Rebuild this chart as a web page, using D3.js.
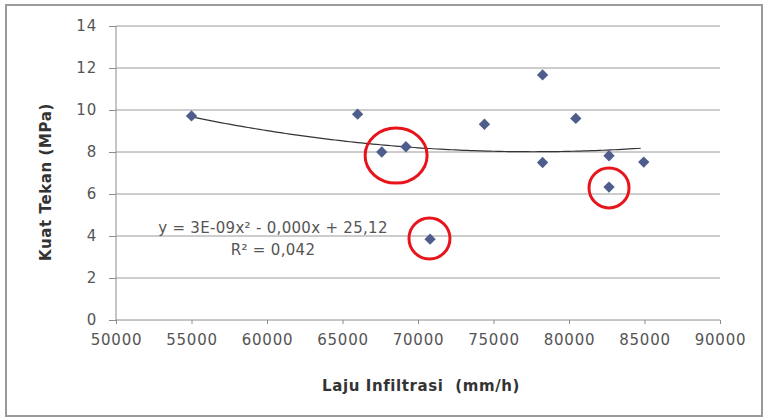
<!DOCTYPE html>
<html>
<head>
<meta charset="utf-8">
<script src="https://cdn.jsdelivr.net/npm/d3@7"></script>
<style>
  body { margin: 0; background: #fff; }
  text { font-family: "DejaVu Sans", sans-serif; fill: #404040; }
  .tick text { font-size: 15px; letter-spacing: 0.8px; fill: #555; }
  .axis path { stroke: #8c8c8c; }
  .axis line { stroke: #8c8c8c; }
  .grid line { stroke: #9a9a9a; }
  .title { font-size: 15px; font-weight: bold; fill: #333; letter-spacing: 0.6px; white-space: pre; }
  .eq { font-size: 15px; fill: #555; letter-spacing: 0.3px; }
</style>
</head>
<body>
<div id="chart"></div>
<script>
// data
var lajuInfiltrasi = [55000, 66000, 67600, 69200, 70800, 74400, 78250, 80450, 78250, 82650, 84950, 82650];
var kuatTekan      = [9.72, 9.8, 8.0, 8.25, 3.85, 9.32, 11.67, 9.6, 7.5, 7.82, 7.52, 6.33];
var xTicks = [50000, 55000, 60000, 65000, 70000, 75000, 80000, 85000, 90000];
var yTicks = [0, 2, 4, 6, 8, 10, 12, 14];
// poly trendline coefficients (as drawn)
var trendCoef = [27.55, -5.035e-4, 3.244e-9];
var eqLines = ["y = 3E-09x² - 0,000x + 25,12", "R² = 0,042"];
// red highlight circles: centre in data units
var highlightX = [68550, 70760, 82650];
var highlightY = [7.83, 3.88, 6.29];
var highlightR = [[31, 27.5], [20.5, 20.5], [20, 20]];

var width = 766, height = 420;
var margin = {top: 26, right: 46, bottom: 100, left: 116};

var svg = d3.select("#chart").append("svg")
    .attr("width", width)
    .attr("height", height);

// outer frame
svg.append("rect")
    .attr("x", 6).attr("y", 5)
    .attr("width", 756).attr("height", 411)
    .attr("fill", "#fff")
    .attr("stroke", "#9a9a9a")
    .attr("stroke-width", 2);

var x = d3.scaleLinear()
    .domain([50000, 90000])
    .range([margin.left, width - margin.right]);

var y = d3.scaleLinear()
    .domain([0, 14])
    .range([height - margin.bottom, margin.top]);

// horizontal gridlines
svg.append("g")
    .attr("class", "grid")
    .selectAll("line")
    .data(yTicks.filter(d => d > 0))
    .enter()
    .append("line")
    .attr("x1", x(50000))
    .attr("x2", x(90000))
    .attr("y1", d => y(d))
    .attr("y2", d => y(d));

var xAxis = d3.axisBottom(x)
    .tickValues(xTicks)
    .tickSize(4)
    .tickPadding(10)
    .tickFormat(d => d);

svg.append("g")
    .attr("class", "axis")
    .attr("transform", `translate(0, ${y(0)})`)
    .call(xAxis)
    .call(g => g.select(".domain").attr("d", `M${x(50000)},0H${x(90000)}`));

var yAxis = d3.axisLeft(y)
    .tickValues(yTicks)
    .tickSize(7)
    .tickPadding(12)
    .tickFormat(d => d);

svg.append("g")
    .attr("class", "axis")
    .attr("transform", `translate(${x(50000)}, 0)`)
    .call(yAxis)
    .call(g => g.select(".domain").attr("d", `M0,${y(0)}V${y(14)}`));

// trendline
var xMin = d3.min(lajuInfiltrasi), xMax = d3.max(lajuInfiltrasi);
var trendPts = d3.range(xMin, xMax + 1, 250).map(v => [v, trendCoef[0] + trendCoef[1] * v + trendCoef[2] * v * v]);

svg.append("path")
    .datum(trendPts)
    .attr("fill", "none")
    .attr("stroke", "#333")
    .attr("stroke-width", 1.2)
    .attr("d", d3.line().x(d => x(d[0])).y(d => y(d[1])));

// points (square turned 45deg = excel diamond)
var points = lajuInfiltrasi.map((v, i) => ({x: v, y: kuatTekan[i]}));

svg.selectAll("path.pt")
    .data(points)
    .enter()
    .append("path")
    .attr("class", "pt")
    .attr("d", d3.symbol().type(d3.symbolSquare).size(64))
    .attr("transform", d => `translate(${x(d.x)}, ${y(d.y)}) rotate(45)`)
    .attr("fill", "#4f5d8c");

// equation label
svg.append("g")
    .selectAll("text")
    .data(eqLines)
    .enter()
    .append("text")
    .attr("class", "eq")
    .attr("x", 273)
    .attr("y", (d, i) => 233 + i * 22)
    .attr("text-anchor", "middle")
    .text(d => d);

// red circles
svg.selectAll("ellipse.hl")
    .data(highlightX)
    .enter()
    .append("ellipse")
    .attr("class", "hl")
    .attr("cx", d => x(d))
    .attr("cy", (d, i) => y(highlightY[i]))
    .attr("rx", (d, i) => highlightR[i][0])
    .attr("ry", (d, i) => highlightR[i][1])
    .attr("fill", "none")
    .attr("stroke", "#e8141b")
    .attr("stroke-width", 3);

// axis titles
svg.append("text")
    .attr("class", "title")
    .attr("x", 421)
    .attr("y", 391)
    .attr("text-anchor", "middle")
    .text("Laju Infiltrasi  (mm/h)");

svg.append("text")
    .attr("class", "title")
    .attr("transform", "translate(51, 182) rotate(-90)")
    .attr("text-anchor", "middle")
    .text("Kuat Tekan (MPa)");
</script>
</body>
</html>
